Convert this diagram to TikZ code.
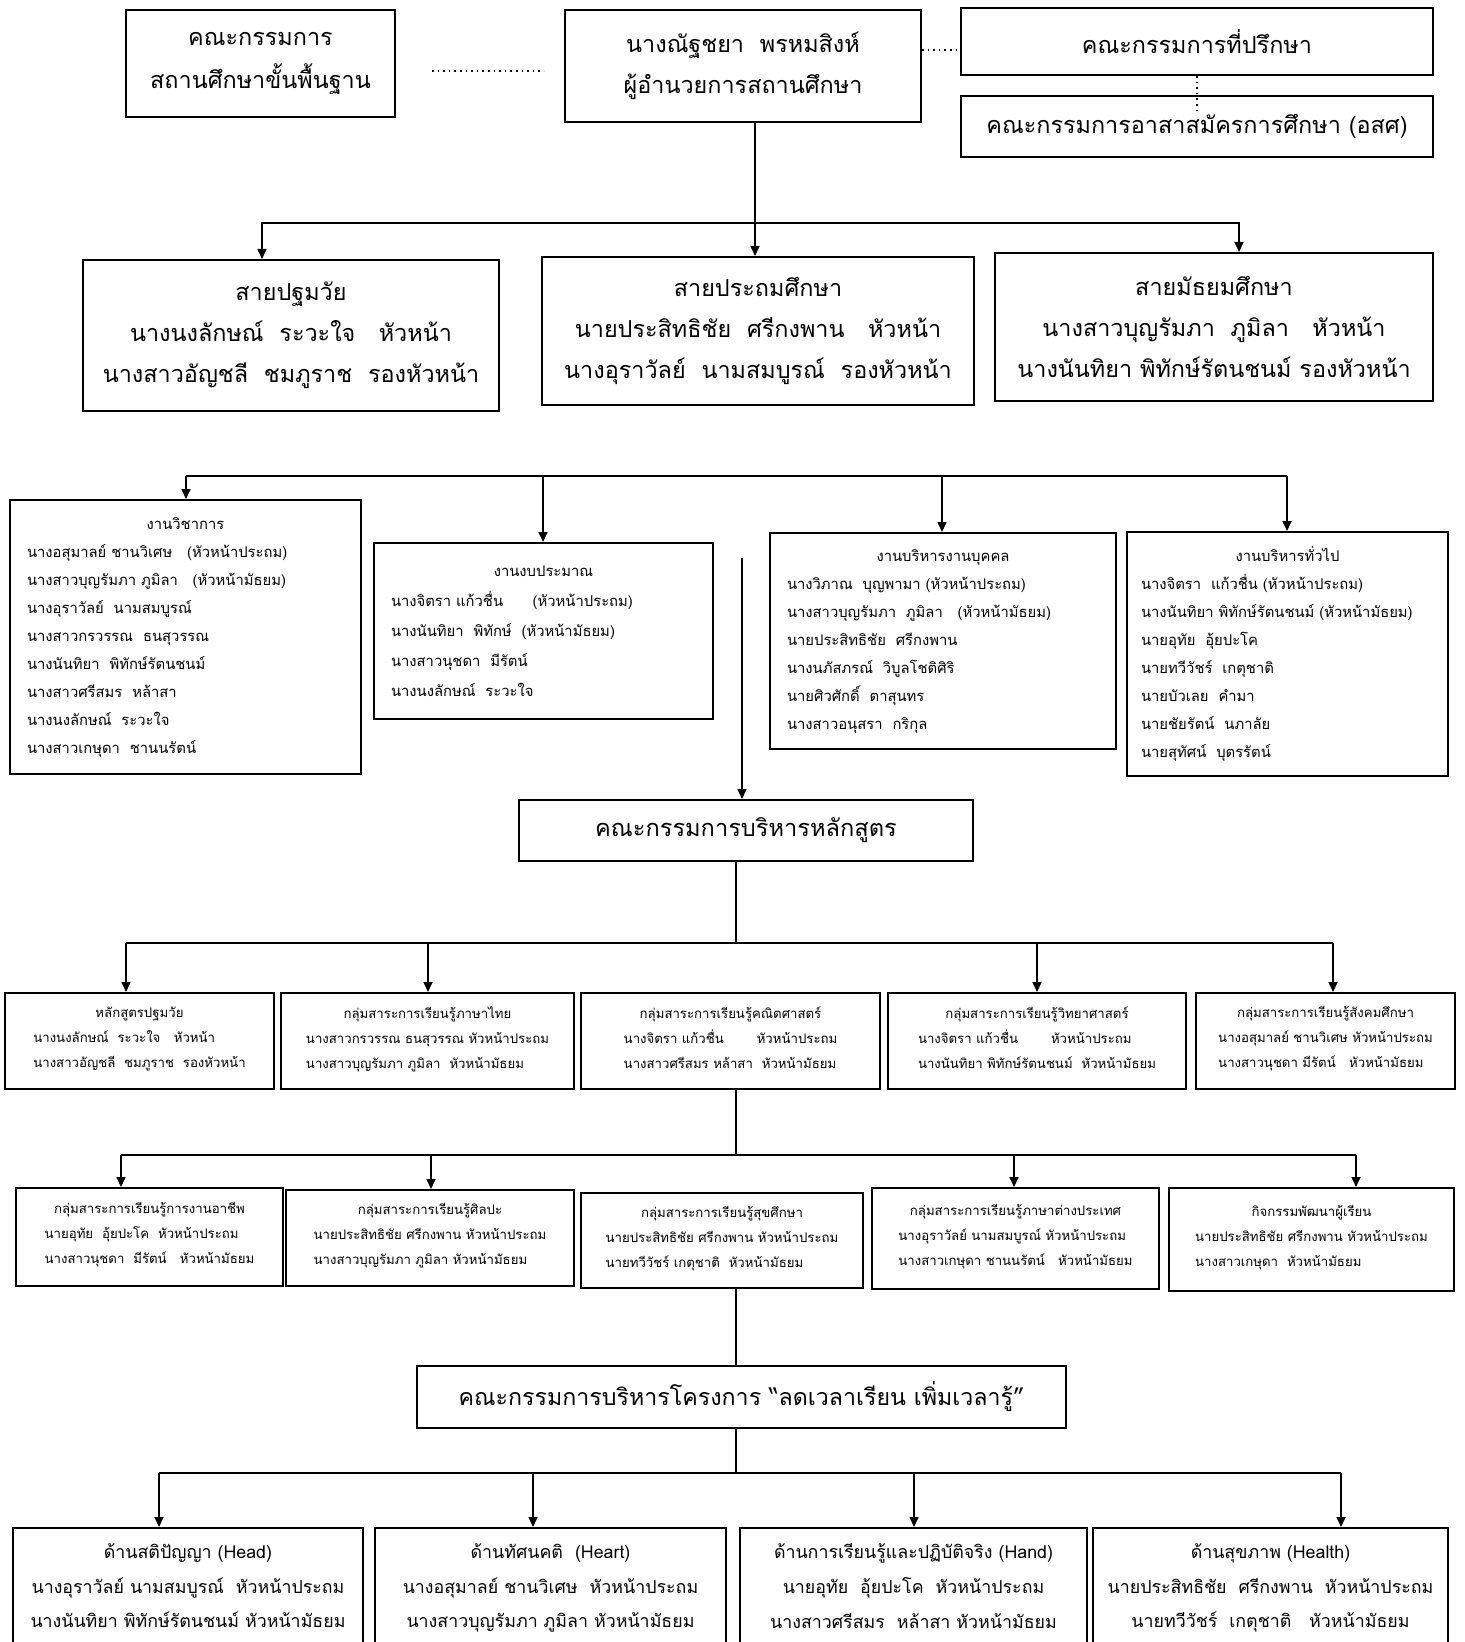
\documentclass[tikz,border=0pt]{standalone}
\usepackage{fontspec}
\setmainfont[Script=Thai]{Loma}
\usetikzlibrary{arrows.meta}
\newcommand\blk[2]{#1\\\begin{tabular}[t]{@{}l@{}}#2\end{tabular}}
\begin{document}
\begin{tikzpicture}[x=0.5pt,y=-0.5pt,
  box/.style={draw, line width=1pt, rectangle, inner sep=0pt, align=center},
  lbox/.style={draw, line width=1pt, rectangle, inner xsep=8.5pt, inner ysep=0pt, align=left},
  arr/.style={-{Triangle[length=5pt,width=4.5pt]}, line width=0.8pt},
  ln/.style={line width=0.8pt},
  dot/.style={dotted, line width=0.8pt},
  fbig/.style={font=\fontsize{11.7}{20.5}\selectfont},
  fmid/.style={font=\fontsize{7.4}{14}\selectfont},
  fsm/.style={font=\fontsize{6.6}{12.5}\selectfont},
  fbot/.style={font=\fontsize{8.9}{17.4}\selectfont},
]
\useasboundingbox (0,0) rectangle (1465,1642);
\fill[white] (0,0) rectangle (1465,1642);
\begin{scope}
\clip (0,0) rectangle (1465,1642);
% ---------- top row
\node[box, fbig, minimum width=134.5pt, minimum height=53.5pt] (B1) at (260.5,63.5) {คณะกรรมการ\\[1pt]สถานศึกษาขั้นพื้นฐาน};
\node[box, fbig, minimum width=178pt, minimum height=56pt] (B2) at (743,66) {นางณัฐชยา\ \ พรหมสิงห์\\ผู้อำนวยการสถานศึกษา};
\node[box, fbig, minimum width=236pt, minimum height=33.5pt] (B3) at (1197,41.5) {คณะกรรมการที่ปรึกษา};
\node[box, fbig, minimum width=236pt, minimum height=30.5pt] (B4) at (1197,126.5) {คณะกรรมการอาสาสมัครการศึกษา (อสศ)};
\coordinate (d1a) at (432,71); \coordinate (d1b) at (544,71);
\draw[dot] (d1a) -- (d1b);
\draw[dot] (B2.east |- 0,50) -- (B3.west |- 0,50);
\coordinate (d3) at (1197,110);
\draw[dot] (B3.south) -- (d3);
% ---------- row 2
\node[box, fbig, minimum width=208pt, minimum height=75.5pt] (C1) at (291,335.5) {สายปฐมวัย\\นางนงลักษณ์\ \ ระวะใจ\quad หัวหน้า\\นางสาวอัญชลี\ \ ชมภูราช\ \ รองหัวหน้า};
\node[box, fbig, minimum width=216pt, minimum height=74pt] (C2) at (758,331) {สายประถมศึกษา\\นายประสิทธิชัย\ \ ศรีกงพาน\quad หัวหน้า\\นางอุราวัลย์\ \ นามสมบูรณ์\ \ รองหัวหน้า};
\node[box, fbig, minimum width=219pt, minimum height=74pt] (C3) at (1214,327) {สายมัธยมศึกษา\\นางสาวบุญรัมภา\ \ ภูมิลา\quad หัวหน้า\\นางนันทิยา พิทักษ์รัตนชนม์ รองหัวหน้า};
\coordinate (j1) at (755,223);
\draw[ln] (755,0 |- B2.south) -- (j1);
\draw[arr] (j1) -| (262,0 |- C1.north);
\draw[arr] (j1) -- (755,0 |- C2.north);
\draw[arr] (j1) -| (1239,0 |- C3.north);
% ---------- row 3
\node[lbox, fmid, text width=158.5pt, minimum height=137pt] (D1) at (185.5,637) {\makebox[\linewidth]{งานวิชาการ}\\
นางอสุมาลย์ ชานวิเศษ\quad (หัวหน้าประถม)\\
นางสาวบุญรัมภา ภูมิลา\quad (หัวหน้ามัธยม)\\
นางอุราวัลย์\ \ นามสมบูรณ์\\
นางสาวกรวรรณ\ \ ธนสุวรรณ\\
นางนันทิยา\ \ พิทักษ์รัตนชนม์\\
นางสาวศรีสมร\ \ หล้าสา\\
นางนงลักษณ์\ \ ระวะใจ\\
นางสาวเกษุดา\ \ ชานนรัตน์};
\node[lbox, font=\fontsize{7.4}{15}\selectfont, text width=152.5pt, minimum height=88pt] (D2) at (543.5,631) {\makebox[\linewidth]{งานงบประมาณ}\\
นางจิตรา แก้วชื่น\qquad (หัวหน้าประถม)\\
นางนันทิยา\ \ พิทักษ์\ \ (หัวหน้ามัธยม)\\
นางสาวนุชดา\ \ มีรัตน์\\
นางนงลักษณ์\ \ ระวะใจ};
\node[lbox, fmid, text width=156pt, minimum height=108pt] (D3) at (943,641) {\makebox[\linewidth]{งานบริหารงานบุคคล}\\
นางวิภาณ\ \ บุญพามา (หัวหน้าประถม)\\
นางสาวบุญรัมภา\ \ ภูมิลา\quad (หัวหน้ามัธยม)\\
นายประสิทธิชัย\ \ ศรีกงพาน\\
นางนภัสภรณ์\ \ วิบูลโชติศิริ\\
นายศิวศักดิ์\ \ ตาสุนทร\\
นางสาวอนุสรา\ \ กริกุล};
\node[lbox, fmid, inner xsep=7pt, text width=146.5pt, minimum height=122pt] (D4) at (1287.5,654) {\makebox[\linewidth]{งานบริหารทั่วไป}\\
นางจิตรา\ \ แก้วชื่น (หัวหน้าประถม)\\
นางนันทิยา พิทักษ์รัตนชนม์ (หัวหน้ามัธยม)\\
นายอุทัย\ \ อุ้ยปะโค\\
นายทวีวัชร์\ \ เกตุชาติ\\
นายบัวเลย\ \ คำมา\\
นายชัยรัตน์\ \ นภาลัย\\
นายสุทัศน์\ \ บุตรรัตน์};
\coordinate (j2a) at (186,476); \coordinate (j2b) at (1287,476);
\draw[ln] (j2a) -- (j2b);
\draw[arr] (j2a) -- (186,0 |- D1.north);
\draw[arr] (543,476) -- (543,0 |- D2.north);
\draw[arr] (942,476) -- (942,0 |- D3.north);
\draw[arr] (j2b) -- (1287,0 |- D4.north);
% ---------- curriculum committee
\node[box, font=\fontsize{11.8}{20}\selectfont, minimum width=227pt, minimum height=30.5pt] (E) at (746,830.5) {คณะกรรมการบริหารหลักสูตร};
\coordinate (v0) at (742,558);
\draw[arr] (v0) -- (v0 |- E.north);
% ---------- row 5
\node[box, fsm, minimum width=134.5pt, minimum height=48pt] (F1) at (139.5,1041) {\blk{หลักสูตรปฐมวัย}{นางนงลักษณ์\ \ ระวะใจ\ \ \ หัวหน้า\\นางสาวอัญชลี\ \ ชมภูราช\ \ รองหัวหน้า}};
\node[box, fsm, minimum width=146.5pt, minimum height=48pt] (F2) at (427.5,1041) {\blk{กลุ่มสาระการเรียนรู้ภาษาไทย}{นางสาวกรวรรณ ธนสุวรรณ หัวหน้าประถม\\นางสาวบุญรัมภา ภูมิลา\ \ หัวหน้ามัธยม}};
\node[box, fsm, minimum width=149.5pt, minimum height=48pt] (F3) at (730.5,1041) {\blk{กลุ่มสาระการเรียนรู้คณิตศาสตร์}{นางจิตรา แก้วชื่น\hspace{2.5em}หัวหน้าประถม\\นางสาวศรีสมร หล้าสา\ \ หัวหน้ามัธยม}};
\node[box, fsm, minimum width=149pt, minimum height=48pt] (F4) at (1037,1041) {\blk{กลุ่มสาระการเรียนรู้วิทยาศาสตร์}{นางจิตรา แก้วชื่น\hspace{2.5em}หัวหน้าประถม\\นางนันทิยา พิทักษ์รัตนชนม์\ \ หัวหน้ามัธยม}};
\node[box, fsm, minimum width=129.5pt, minimum height=48pt] (F5) at (1325.5,1041) {\blk{กลุ่มสาระการเรียนรู้สังคมศึกษา}{นางอสุมาลย์ ชานวิเศษ หัวหน้าประถม\\นางสาวนุชดา มีรัตน์\ \ \ หัวหน้ามัธยม}};
\coordinate (j3) at (736,943);
\draw[ln] (736,0 |- E.south) -- (j3);
\coordinate (j3a) at (126,943); \coordinate (j3b) at (1333,943);
\draw[ln] (j3a) -- (j3b);
\draw[arr] (j3a) -- (126,0 |- F1.north);
\draw[arr] (428,943) -- (428,0 |- F2.north);
\draw[arr] (1037,943) -- (1037,0 |- F4.north);
\draw[arr] (j3b) -- (1333,0 |- F5.north);
% ---------- row 6
\node[box, fsm, minimum width=133.5pt, minimum height=49pt] (G1) at (149.5,1237) {\blk{กลุ่มสาระการเรียนรู้การงานอาชีพ}{นายอุทัย\ \ อุ้ยปะโค\ \ หัวหน้าประถม\\นางสาวนุชดา\ \ มีรัตน์\quad หัวหน้ามัธยม}};
\node[box, fsm, minimum width=144pt, minimum height=48pt] (G2) at (430,1238) {\blk{กลุ่มสาระการเรียนรู้ศิลปะ}{นายประสิทธิชัย ศรีกงพาน หัวหน้าประถม\\นางสาวบุญรัมภา ภูมิลา หัวหน้ามัธยม}};
\node[box, fsm, minimum width=141pt, minimum height=47.5pt] (G3) at (722,1240.5) {\blk{กลุ่มสาระการเรียนรู้สุขศึกษา}{นายประสิทธิชัย ศรีกงพาน หัวหน้าประถม\\นายทวีวัชร์ เกตุชาติ\ \ หัวหน้ามัธยม}};
\node[box, fsm, minimum width=143.5pt, minimum height=50.5pt] (G4) at (1015.5,1238.5) {\blk{กลุ่มสาระการเรียนรู้ภาษาต่างประเทศ}{นางอุราวัลย์ นามสมบูรณ์ หัวหน้าประถม\\นางสาวเกษุดา ชานนรัตน์\quad หัวหน้ามัธยม}};
\node[box, fsm, minimum width=142.5pt, minimum height=51.5pt] (G5) at (1311.5,1239.5) {\blk{กิจกรรมพัฒนาผู้เรียน}{นายประสิทธิชัย ศรีกงพาน หัวหน้าประถม\\นางสาวเกษุดา\ \ หัวหน้ามัธยม}};
\coordinate (j4) at (736,1155);
\draw[ln] (736,0 |- F3.south) -- (j4);
\coordinate (j4a) at (121,1155); \coordinate (j4b) at (1356,1155);
\draw[ln] (j4a) -- (j4b);
\draw[arr] (j4a) -- (121,0 |- G1.north);
\draw[arr] (431,1155) -- (431,0 |- G2.north);
\draw[arr] (1014,1155) -- (1014,0 |- G4.north);
\draw[arr] (j4b) -- (1356,0 |- G5.north);
% ---------- project committee
\node[box, font=\fontsize{11.6}{18}\selectfont, minimum width=324.5pt, minimum height=31pt] (H) at (741.5,1397) {คณะกรรมการบริหารโครงการ “ลดเวลาเรียน เพิ่มเวลารู้”};
\draw[ln] (736,0 |- G3.south) -- (736,0 |- H.north);
% ---------- row 8
\node[box, minimum width=175pt, minimum height=90pt, anchor=north] (I1) at (188,1527) {};
\node[box, minimum width=175.5pt, minimum height=90pt, anchor=north] (I2) at (550.5,1527) {};
\node[box, minimum width=173.5pt, minimum height=90pt, anchor=north] (I3) at (913.5,1527) {};
\node[box, minimum width=177.5pt, minimum height=90pt, anchor=north] (I4) at (1270.5,1527) {};
\node[fbot, align=center, anchor=north, inner sep=0pt] (I1t) at ([yshift=-8pt]I1.north) {ด้านสติปัญญา (Head)\\นางอุราวัลย์ นามสมบูรณ์\ \ หัวหน้าประถม\\นางนันทิยา พิทักษ์รัตนชนม์ หัวหน้ามัธยม};
\node[fbot, align=center, anchor=north, inner sep=0pt] (I2t) at ([yshift=-8pt]I2.north) {ด้านทัศนคติ\ \ (Heart)\\นางอสุมาลย์ ชานวิเศษ\ \ หัวหน้าประถม\\นางสาวบุญรัมภา ภูมิลา หัวหน้ามัธยม};
\node[fbot, align=center, anchor=north, inner sep=0pt] (I3t) at ([yshift=-8pt]I3.north) {ด้านการเรียนรู้และปฏิบัติจริง (Hand)\\นายอุทัย\ \ อุ้ยปะโค\ \ หัวหน้าประถม\\นางสาวศรีสมร\ \ หล้าสา หัวหน้ามัธยม};
\node[fbot, align=center, anchor=north, inner sep=0pt] (I4t) at ([yshift=-8pt]I4.north) {ด้านสุขภาพ (Health)\\นายประสิทธิชัย\ \ ศรีกงพาน\ \ หัวหน้าประถม\\นายทวีวัชร์\ \ เกตุชาติ\quad หัวหน้ามัธยม};
\coordinate (j5) at (736,1473);
\draw[ln] (736,0 |- H.south) -- (j5);
\coordinate (j5a) at (159,1473); \coordinate (j5b) at (1341,1473);
\draw[ln] (j5a) -- (j5b);
\draw[arr] (j5a) -- (159,0 |- I1.north);
\draw[arr] (533,1473) -- (533,0 |- I2.north);
\draw[arr] (914,1473) -- (914,0 |- I3.north);
\draw[arr] (j5b) -- (1341,0 |- I4.north);
\end{scope}
\end{tikzpicture}
\end{document}
